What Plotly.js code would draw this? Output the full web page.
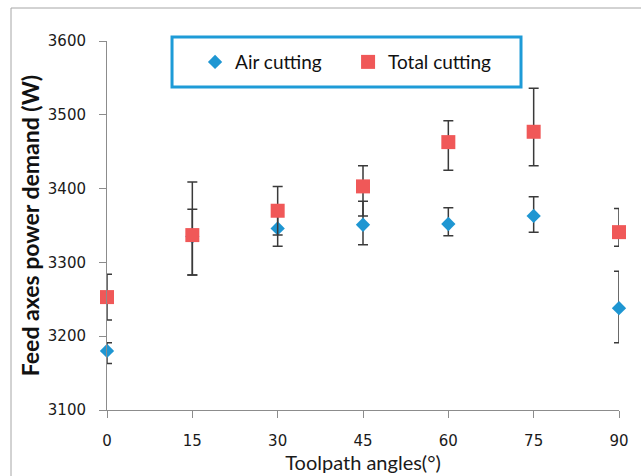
<!DOCTYPE html>
<html>
<head>
<meta charset="utf-8">
<script src="https://cdn.plot.ly/plotly-3.0.1.min.js"></script>
<style>html,body{margin:0;padding:0;background:#fff;}#chart{width:641px;height:476px;}</style>
</head>
<body>
<div id="chart"></div>
<script>
const angles = [0, 15, 30, 45, 60, 75, 90];
const airCutting = [3180, 3335, 3346, 3351, 3352, 3363, 3238];
const airPlus = [11, 37, 24, 32, 22, 26, 50];
const airMinus = [17, 52, 24, 27, 16, 22, 47];
const totalCutting = [3253, 3337, 3370, 3403, 3463, 3477, 3341];
const totalPlus = [31, 72, 33, 28, 29, 59, 32];
const totalMinus = [31, 54, 33, 40, 38, 46, 19];
const xTicks = [0, 15, 30, 45, 60, 75, 90];
const yTicks = [3100, 3200, 3300, 3400, 3500, 3600];

const errStyle = {color: '#3a3a3a', thickness: 1.5, width: 5};

const traces = [
  {
    x: angles, y: airCutting, name: 'Air cutting', type: 'scatter', mode: 'markers',
    cliponaxis: false,
    marker: {symbol: 'diamond', size: 11, color: '#1e96d2'},
    error_y: Object.assign({type: 'data', symmetric: false, array: airPlus, arrayminus: airMinus}, errStyle)
  },
  {
    x: angles, y: totalCutting, name: 'Total cutting', type: 'scatter', mode: 'markers',
    cliponaxis: false,
    marker: {symbol: 'square', size: 14, color: '#f05858'},
    error_y: Object.assign({type: 'data', symmetric: false, array: totalPlus, arrayminus: totalMinus}, errStyle)
  }
];

const layout = {
  width: 641, height: 476, autosize: false,
  margin: {l: 107, r: 22, t: 41, b: 66, pad: 0},
  paper_bgcolor: '#ffffff', plot_bgcolor: '#ffffff',
  showlegend: true,
  xaxis: {
    range: [0, 90], tickvals: xTicks, ticktext: xTicks.map(String),
    showgrid: false, zeroline: false, showline: true, linecolor: '#8c8c8c', linewidth: 1,
    ticks: 'outside', ticklen: 7, tickcolor: '#8c8c8c',
    ticklabelstandoff: 10,
    tickfont: {family: 'DejaVu Sans', size: 15, color: '#1a1a1a'},
    title: {text: 'Toolpath angles(°)', font: {family: 'Lato', size: 20, color: '#1a1a1a'}, standoff: 6},
    automargin: false
  },
  yaxis: {
    range: [3100, 3600], tickvals: yTicks, ticktext: yTicks.map(String),
    showgrid: false, zeroline: false, showline: true, linecolor: '#8c8c8c', linewidth: 1,
    ticks: 'outside', ticklen: 7, tickcolor: '#8c8c8c',
    ticklabelstandoff: 10,
    tickfont: {family: 'DejaVu Sans', size: 15, color: '#1a1a1a'},
    title: {text: 'Feed axes power demand (W)', font: {family: 'Lato', size: 23, color: '#111', weight: 'bold'}, standoff: 1},
    automargin: false
  },
  legend: {
    orientation: 'h', x: 0.172, y: 0.943, xanchor: 'left', yanchor: 'middle',
    bgcolor: 'rgba(0,0,0,0)', borderwidth: 0,
    entrywidth: 108, entrywidthmode: 'pixels',
    font: {family: 'Lato', size: 19, color: '#111'}
  },
  shapes: [
    {type: 'rect', xref: 'paper', yref: 'paper', x0: -0.1875, x1: 1.2, y0: -0.4, y1: 1.0894,
     line: {color: '#a6a6a6', width: 1}, fillcolor: 'rgba(0,0,0,0)', layer: 'below'},
    {type: 'rect', xref: 'paper', yref: 'paper', x0: 0.127, x1: 0.8086, y0: 0.8753, y1: 1.0108,
     line: {color: '#1e9bd7', width: 3}, fillcolor: '#ffffff', layer: 'above'}
  ]
};

Plotly.newPlot('chart', traces, layout, {displayModeBar: false, staticPlot: true});
</script>
</body>
</html>
